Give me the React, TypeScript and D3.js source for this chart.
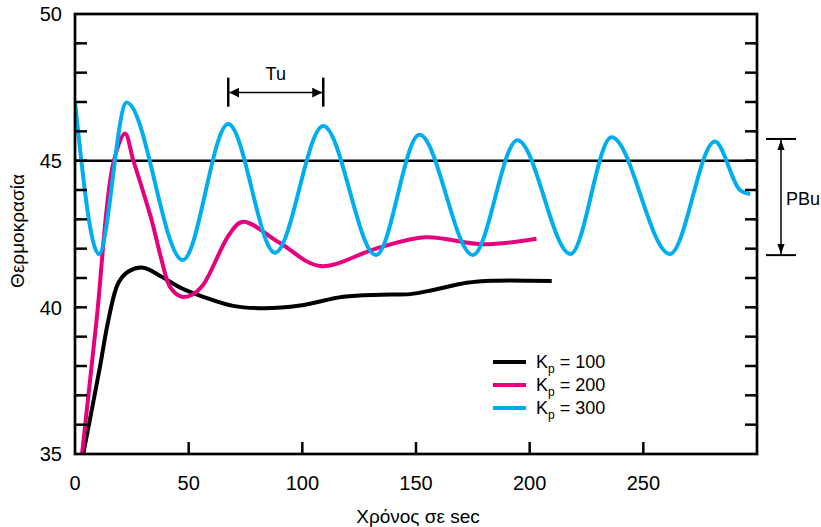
import React from 'react';
import * as d3 from 'd3';

// ---- data ----
const kp100Time = [3.7, 11, 14.7, 19, 23.5, 30, 38.1, 46.9, 56.4, 69.5, 82.8, 99, 118, 135, 147.4, 157.6, 172.3, 184, 209.7];
const kp100Temp = [35.03, 37.98, 39.57, 40.82, 41.22, 41.35, 41.04, 40.65, 40.36, 40.05, 39.97, 40.06, 40.36, 40.43, 40.45, 40.59, 40.84, 40.91, 40.9];

const kp200Time = [3.1, 9.5, 16.85, 22, 25.6, 29.3, 33.7, 38.1, 41.8, 46.9, 51.3, 56.3, 68, 73.8, 90, 107.8, 132.7, 154, 179.6, 203];
const kp200Temp = [35.0, 39.57, 44.92, 45.93, 45.02, 44.11, 42.98, 41.61, 40.7, 40.36, 40.42, 40.76, 42.5, 42.92, 42.2, 41.41, 42.01, 42.39, 42.15, 42.34];

const kp300Time = [0, 10.5, 22.7, 47.4, 67.4, 88, 109.2, 132.4, 151.5, 175, 194.6, 218, 236, 261.7, 281.5, 292.5, 297];
const kp300Temp = [47.0, 41.82, 46.98, 41.61, 46.25, 41.86, 46.18, 41.78, 45.88, 41.78, 45.7, 41.82, 45.8, 41.82, 45.65, 44.0, 43.86];

const xTickValues = [0, 50, 100, 150, 200, 250];
const yLabelValues = [35, 40, 45, 50];
const yMinorValues = d3.range(36, 50);
const setpoint = 45;

const legendLabels = ['100', '200', '300'];
const seriesColors = ['#000000', '#e6007e', '#00aeef'];

const tuRange = [67.4, 109.2];
const tuBarTemp = [47.83, 46.84];
const tuArrowTemp = 47.32;
const pbuRange = [45.74, 41.78];

const FONT = '"Liberation Sans", Arial, Helvetica, sans-serif';

export default function App() {
  const W = 821, H = 527;
  const left = 75, right = 757, top = 14, bottom = 454;
  const x = d3.scaleLinear().domain([0, 300]).range([left, right]);
  const y = d3.scaleLinear().domain([35, 50]).range([bottom, top]);

  const smooth = d3.line<[number, number]>()
    .x(d => x(d[0]))
    .y(d => y(d[1]))
    .curve(d3.curveCatmullRom.alpha(0.5));
  const wave = d3.line<[number, number]>()
    .x(d => x(d[0]))
    .y(d => y(d[1]))
    .curve(d3.curveMonotoneX);

  const series = [
    { t: kp100Time, v: kp100Temp, gen: smooth },
    { t: kp200Time, v: kp200Temp, gen: smooth },
    { t: kp300Time, v: kp300Temp, gen: wave },
  ];

  const tuX0 = x(tuRange[0]), tuX1 = x(tuRange[1]);
  const tuY = y(tuArrowTemp);
  const pbuY0 = y(pbuRange[0]), pbuY1 = y(pbuRange[1]);
  const pbuX = right + 24;

  return (
    <svg width={W} height={H} style={{ position: 'absolute', left: 0, top: 0, background: '#fff' }} fontFamily={FONT}>
      <defs>
        <marker id="ah" viewBox="0 0 10 10" refX="10" refY="5" markerWidth="10" markerHeight="10" markerUnits="userSpaceOnUse" orient="auto-start-reverse">
          <path d="M0,0 L10,5 L0,10 Z" fill="#000" />
        </marker>
        <marker id="ahv" viewBox="0 0 10 14" refX="14" refY="5" markerWidth="14" markerHeight="10" markerUnits="userSpaceOnUse" orient="auto-start-reverse">
          <path d="M0,0 L14,5 L0,10 Z" fill="#000" />
        </marker>
        <clipPath id="plot">
          <rect x={left} y={top} width={right - left} height={bottom - top} />
        </clipPath>
      </defs>

      {/* setpoint line */}
      <line x1={left} x2={right} y1={y(setpoint)} y2={y(setpoint)} stroke="#000" strokeWidth={2.5} />

      {/* series */}
      <g clipPath="url(#plot)">
        {series.map((s, i) => (
          <path key={i} d={s.gen(s.t.map((t, j) => [t, s.v[j]] as [number, number])) || ''}
            fill="none" stroke={seriesColors[i]} strokeWidth={4} strokeLinejoin="round" />
        ))}
      </g>

      {/* frame */}
      <rect x={left} y={top} width={right - left} height={bottom - top} fill="none" stroke="#000" strokeWidth={2.7} />

      {/* y ticks both sides */}
      {yMinorValues.map(v => (
        <g key={v}>
          <line x1={left} x2={left + 12} y1={y(v)} y2={y(v)} stroke="#000" strokeWidth={2.5} />
          <line x1={right - 12} x2={right} y1={y(v)} y2={y(v)} stroke="#000" strokeWidth={2.5} />
        </g>
      ))}
      {yLabelValues.map(v => (
        <text key={v} x={62} y={y(v)} dy="0.36em" textAnchor="end" fontSize={20}>{v}</text>
      ))}

      {/* x ticks */}
      {xTickValues.filter(v => v > 0).map(v => (
        <line key={v} x1={x(v)} x2={x(v)} y1={bottom} y2={bottom - 12} stroke="#000" strokeWidth={2.5} />
      ))}
      {xTickValues.map(v => (
        <text key={v} x={x(v)} y={490} textAnchor="middle" fontSize={20}>{v}</text>
      ))}

      {/* axis titles */}
      <text x={418} y={523} textAnchor="middle" fontSize={19}>Χρόνος σε sec</text>
      <text transform={`translate(24,231) rotate(-90)`} textAnchor="middle" fontSize={19}>Θερμοκρασία</text>

      {/* Tu annotation */}
      <line x1={tuX0} x2={tuX0} y1={y(tuBarTemp[0])} y2={y(tuBarTemp[1])} stroke="#000" strokeWidth={2.5} />
      <line x1={tuX1} x2={tuX1} y1={y(tuBarTemp[0])} y2={y(tuBarTemp[1])} stroke="#000" strokeWidth={2.5} />
      <line x1={tuX0 + 1} x2={tuX1 - 1} y1={tuY} y2={tuY} stroke="#000" strokeWidth={1.5}
        markerStart="url(#ah)" markerEnd="url(#ah)" />
      <text x={(tuX0 + tuX1) / 2} y={80} textAnchor="middle" fontSize={18}>Tu</text>

      {/* PBu annotation */}
      <line x1={pbuX - 15} x2={pbuX + 15} y1={pbuY0} y2={pbuY0} stroke="#000" strokeWidth={2} />
      <line x1={pbuX - 15} x2={pbuX + 15} y1={pbuY1} y2={pbuY1} stroke="#000" strokeWidth={2} />
      <line x1={pbuX} x2={pbuX} y1={pbuY0 + 1} y2={pbuY1 - 1} stroke="#000" strokeWidth={1.5}
        markerStart="url(#ahv)" markerEnd="url(#ahv)" />
      <text x={pbuX + 5} y={205} fontSize={18}>PBu</text>

      {/* legend */}
      {legendLabels.map((lab, i) => {
        const ly = 362 + i * 23;
        return (
          <g key={lab}>
            <line x1={493} x2={526} y1={ly} y2={ly} stroke={seriesColors[i]} strokeWidth={4} />
            <text x={536} y={ly + 6} fontSize={18}>
              K<tspan fontSize={12} dy={5}>p</tspan><tspan dy={-5}>{` = ${lab}`}</tspan>
            </text>
          </g>
        );
      })}
    </svg>
  );
}
